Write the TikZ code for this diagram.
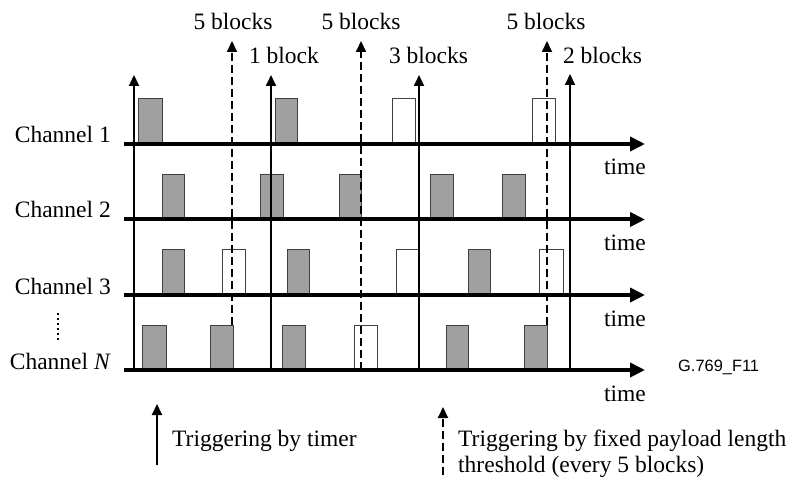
\documentclass[tikz,border=0pt]{standalone}
\usepackage{fontspec}
\setmainfont{Liberation Serif}
\newfontfamily\arialfont{Liberation Sans}
\usetikzlibrary{arrows.meta}
\definecolor{blockgray}{HTML}{A0A0A0}
\definecolor{edgegray}{HTML}{404040}
\begin{document}
\begin{tikzpicture}[x=1pt,y=-1pt,
  blk/.style={draw=edgegray, line width=0.9pt},
  gblk/.style={blk, fill=blockgray},
  wblk/.style={blk, fill=white},
  timeaxis/.style={line width=4pt, -{Triangle[length=15pt,width=14pt]}},
  trig/.style={line width=2pt, -{Triangle[length=11pt,width=10pt]}},
  dtrig/.style={trig, dash pattern=on 8pt off 4pt},
  lbl/.style={inner sep=0pt, font=\fontsize{23.5}{28}\selectfont},
  codelbl/.style={inner sep=0pt, font=\arialfont\fontsize{16.4}{19}\selectfont}]
\useasboundingbox (0,0) rectangle (794,478);

% blocks: channel 1 (axis 144)
\foreach \a/\b in {138/162, 275/297}{\draw[gblk] (\a,144) rectangle (\b,98);}
\foreach \a/\b in {392/415, 532/555}{\draw[wblk] (\a,144) rectangle (\b,98);}
% channel 2 (axis 219.5)
\foreach \a/\b in {162/184, 260/283, 339/361, 430/453, 502/525}{\draw[gblk] (\a,219.5) rectangle (\b,174);}
% channel 3 (axis 295)
\foreach \a/\b in {162/184, 287/309, 468/490}{\draw[gblk] (\a,295) rectangle (\b,249);}
\foreach \a/\b in {222/245, 396/418, 539/563}{\draw[wblk] (\a,295) rectangle (\b,249);}
% channel N (axis 370)
\foreach \a/\b in {142/166, 210/233, 282/305, 446/468, 524/547}{\draw[gblk] (\a,370) rectangle (\b,325);}
\foreach \a/\b in {354/377}{\draw[wblk] (\a,370) rectangle (\b,325);}

% trigger lines
\foreach \n/\x/\t in {s1/134/75, s2/271/75, s3/419/75, s4/570/74}{
  \coordinate (\n bot) at (\x,370);
  \coordinate (\n top) at (\x,\t);
  \draw[trig] (\n bot) -- (\n top);
}
\foreach \n/\x/\b in {d1/232/325, d2/361/370, d3/547/325}{
  \coordinate (\n bot) at (\x,\b);
  \coordinate (\n top) at (\x,41);
  \draw[dtrig] (\n bot) -- (\n top);
}

% time axes
\foreach \n/\y in {c1/144, c2/219.5, c3/295, cN/370}{
  \coordinate (\n start) at (124,\y);
  \coordinate (\n end) at (645,\y);
  \draw[timeaxis] (\n start) -- (\n end);
  \node[lbl, anchor=base] (\n time) at (625,\y+31) {time};
}

% channel labels
\node[lbl, anchor=base east] (ch1) at (111,143) {Channel 1};
\node[lbl, anchor=base east] (ch2) at (111,218) {Channel 2};
\node[lbl, anchor=base east] (ch3) at (111,294) {Channel 3};
\node[lbl, anchor=base east] (chN) at (111,369.5) {Channel \textit{N}};
\coordinate (dotA) at (58,313);
\coordinate (dotB) at (58,340);
\draw[line width=1.6pt, dash pattern=on 1.6pt off 3.4pt] (dotA) -- (dotB);

% block count labels
\node[lbl, anchor=base] (l1) at (233,30) {5 blocks};
\node[lbl, anchor=base] (l2) at (284,64) {1 block};
\node[lbl, anchor=base] (l3) at (361,30) {5 blocks};
\node[lbl, anchor=base] (l4) at (428.5,63.5) {3 blocks};
\node[lbl, anchor=base] (l5) at (546,30) {5 blocks};
\node[lbl, anchor=base] (l6) at (602.5,64) {2 blocks};

\node[codelbl, anchor=base west] (fig) at (678,371) {G.769\_F11};

% legend
\coordinate (lg1bot) at (157,465);
\coordinate (lg1top) at (157,404);
\draw[trig] (lg1bot) -- (lg1top);
\node[lbl, anchor=base west] (lt1) at (172,446) {Triggering by timer};
\coordinate (lg2bot) at (443,475);
\coordinate (lg2top) at (443,407);
\draw[dtrig] (lg2bot) -- (lg2top);
\node[lbl, anchor=base west] (lt2) at (458,446) {Triggering by fixed payload length};
\node[lbl, anchor=base west] (lt3) at (458,472.5) {threshold (every 5 blocks)};
\end{tikzpicture}
\end{document}
